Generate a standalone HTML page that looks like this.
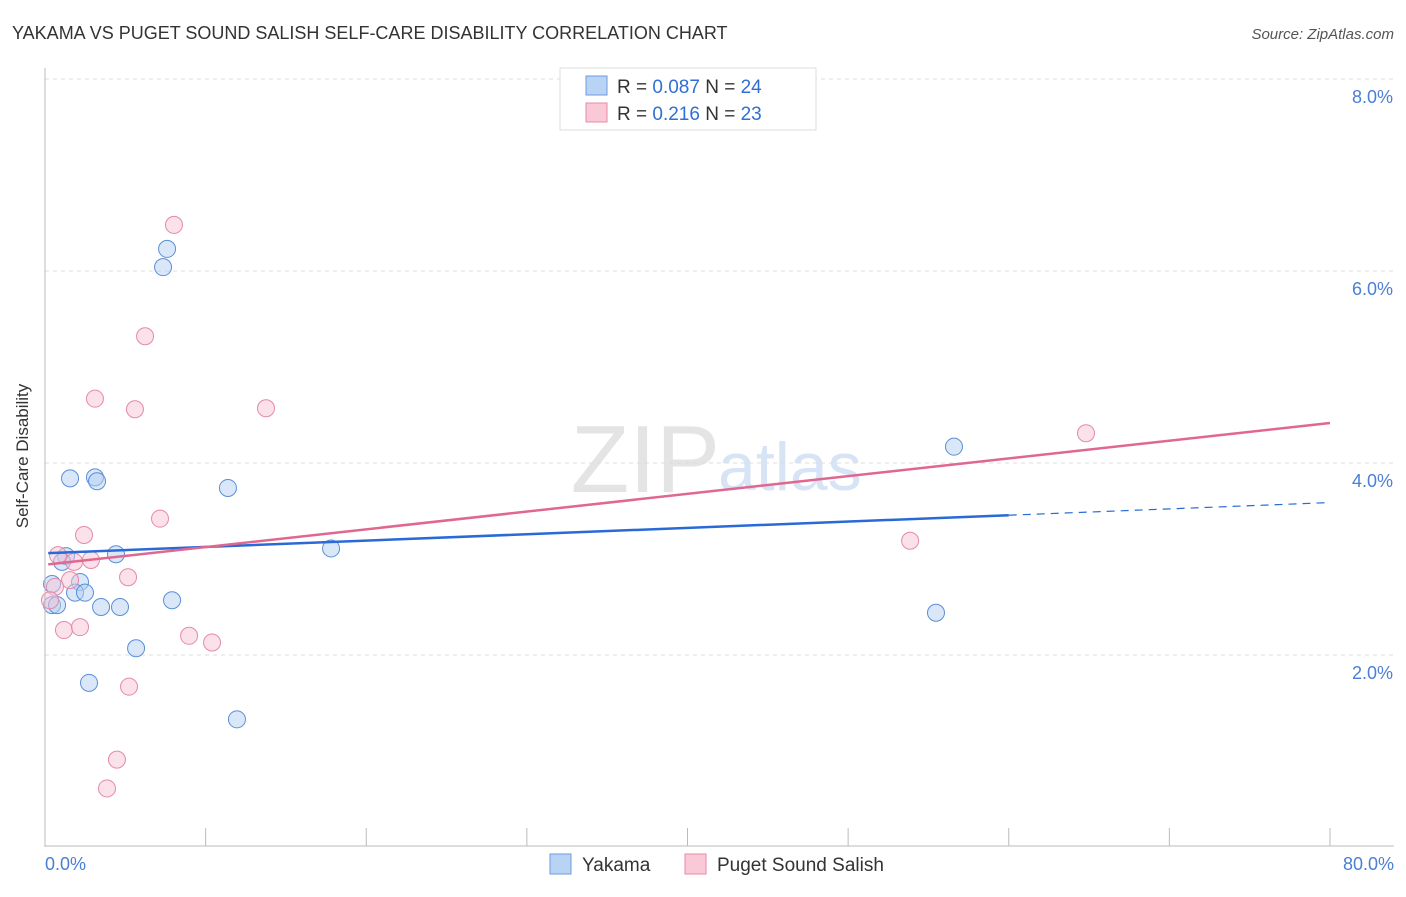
<!DOCTYPE html>
<html><head><meta charset="utf-8"><style>
body{margin:0;background:#fff;font-family:"Liberation Sans",sans-serif;}
svg text{font-family:"Liberation Sans",sans-serif;}
</style></head><body>
<svg id="c" width="1406" height="892">
<text x="12" y="39" font-size="18" fill="#333">YAKAMA VS PUGET SOUND SALISH SELF-CARE DISABILITY CORRELATION CHART</text>
<text x="1394" y="39" font-size="15" fill="#555" font-style="italic" text-anchor="end">Source: ZipAtlas.com</text>
<text x="720" y="492" font-size="96" fill="#e4e4e4" font-family="Liberation Serif" text-anchor="end">ZIP</text>
<text x="718" y="490" font-size="68" fill="#d6e4f5">atlas</text>
<g id="grid"></g><g id="pts"></g><g id="lines"></g>
<line x1="45" y1="68" x2="45" y2="847" stroke="#bbb"/>
<line x1="45" y1="846" x2="1394" y2="846" stroke="#bbb"/>
<text x="28" y="456" font-size="17" fill="#333" text-anchor="middle" transform="rotate(-90 28 456)">Self-Care Disability</text>
<text x="45" y="870" font-size="18" fill="#4a7fd4">0.0%</text>
<text x="1394" y="870" font-size="18" fill="#4a7fd4" text-anchor="end">80.0%</text>
<g>
<rect x="560" y="68" width="256" height="62" fill="#fff" stroke="#ddd"/>
<rect x="586" y="76" width="21" height="19" fill="#b9d3f5" stroke="#6b9de0"/>
<rect x="586" y="103" width="21" height="19" fill="#f9c9d8" stroke="#e88aa8"/>
<text x="617" y="93" font-size="19" fill="#333">R = <tspan fill="#2f6fd6">0.087</tspan>    N = <tspan fill="#2f6fd6">24</tspan></text>
<text x="617" y="120" font-size="19" fill="#333">R =  <tspan fill="#2f6fd6">0.216</tspan>    N = <tspan fill="#2f6fd6">23</tspan></text>
</g>
<g>
<rect x="550" y="854" width="21" height="20" fill="#b9d3f5" stroke="#6b9de0"/>
<text x="582" y="871" font-size="19" fill="#333">Yakama</text>
<rect x="685" y="854" width="21" height="20" fill="#f9c9d8" stroke="#e88aa8"/>
<text x="717" y="871" font-size="19" fill="#333">Puget Sound Salish</text>
</g>
</svg>
<script>
const blueX=[7.60,7.35,1.56,3.11,3.24,11.39,56.59,4.42,1.31,1.06,17.81,0.44,2.18,1.87,2.49,0.44,0.75,3.49,4.67,7.91,5.67,55.47,2.74,11.95];
const blueY=[6.23,6.04,3.84,3.85,3.81,3.74,4.17,3.05,3.03,2.97,3.11,2.74,2.76,2.65,2.65,2.52,2.52,2.50,2.50,2.57,2.07,2.44,1.71,1.33];
const pinkX=[8.03,6.23,3.11,5.60,13.76,64.81,7.16,2.43,0.81,1.81,2.86,5.17,1.56,0.62,0.31,1.18,2.18,8.97,10.40,53.86,5.23,4.48,3.86];
const pinkY=[6.48,5.32,4.67,4.56,4.57,4.31,3.42,3.25,3.04,2.97,2.99,2.81,2.78,2.71,2.57,2.26,2.29,2.20,2.13,3.19,1.67,0.91,0.61];
const yTicks=[2,4,6,8];
const xTicks=[0,10,20,30,40,50,60,70,80];
const blueTrend=[3.06,0.0066], pinkTrend=[2.94,0.01846];
const NS="http://www.w3.org/2000/svg";
const sx=v=>45+v/80*1285, sy=v=>847-v*96;
function mk(t,a,p){const e=document.createElementNS(NS,t);for(const k in a)e.setAttribute(k,a[k]);document.getElementById(p).appendChild(e);return e;}
yTicks.forEach(v=>{
 const l=mk('line',{x1:45,x2:1394,y1:sy(v),y2:sy(v),stroke:'#ddd','stroke-dasharray':'4,4'},'grid');
 
 
 const t=mk('text',{x:1393,y:sy(v)+24,'font-size':18,fill:'#4a7fd4','text-anchor':'end'},'grid');
 t.textContent=v.toFixed(1)+'%';
 
 
});
xTicks.forEach(v=>{
 const l=mk('line',{x1:sx(v),x2:sx(v),y1:828,y2:846,stroke:'#bbb'},'grid');
 
 
});
function pts(X,Y,fill,stroke,name){X.forEach((x,i)=>{
 const c=mk('circle',{cx:sx(x),cy:sy(Y[i]),r:8.5,fill:fill,'fill-opacity':0.5,stroke:stroke,'stroke-width':1},'pts');
 
 
});}
pts(blueX,blueY,'#b3cff2','#5b8fd8','yakama-point');
pts(pinkX,pinkY,'#f8c4d4','#e58aa8','puget-sound-salish-point');
let l=mk('line',{x1:sx(0.2),y1:sy(blueTrend[0]+blueTrend[1]*0.2),x2:sx(60),y2:sy(blueTrend[0]+blueTrend[1]*60),stroke:'#2a6ad6','stroke-width':2.5},'lines');


l=mk('line',{x1:sx(60),y1:sy(blueTrend[0]+blueTrend[1]*60),x2:sx(80),y2:sy(blueTrend[0]+blueTrend[1]*80),stroke:'#2a6ad6','stroke-width':1.2,'stroke-dasharray':'8,6'},'lines');


l=mk('line',{x1:sx(0.2),y1:sy(pinkTrend[0]+pinkTrend[1]*0.2),x2:sx(80),y2:sy(pinkTrend[0]+pinkTrend[1]*80),stroke:'#e0678f','stroke-width':2.5},'lines');


</script>
</body></html>
